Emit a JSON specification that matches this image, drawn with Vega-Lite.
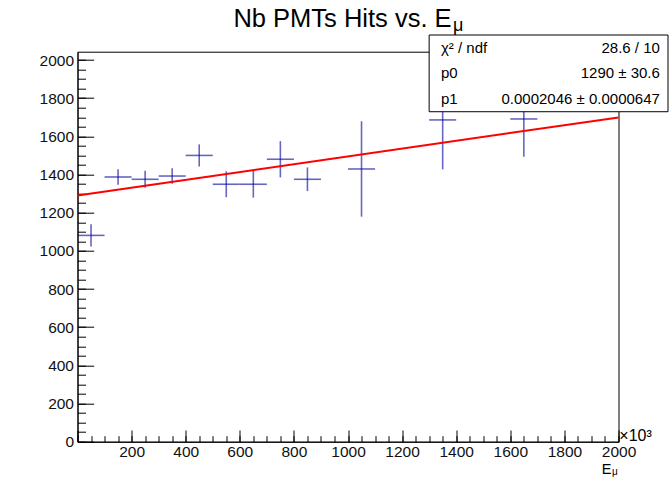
{
  "$schema": "https://vega.github.io/schema/vega-lite/v6.json",
  "width": 541,
  "height": 390,
  "autosize": {"type": "none"},
  "padding": {"left": 77.5, "top": 51.7, "right": 51.5, "bottom": 36.3},
  "background": "white",
  "config": {
    "view": {"stroke": "black", "strokeWidth": 1},
    "axis": {"labelFont": "Liberation Sans", "labelFontSize": 15.5, "labelColor": "#111111", "grid": false, "domainColor": "black", "tickColor": "black", "domainWidth": 1, "tickWidth": 1}
  },
  "data": {"values": [{}]},
  "datasets": {
    "points": [
      {"E": 50, "dE": 50, "N": 1081, "dN": 58},
      {"E": 150, "dE": 50, "N": 1387, "dN": 41},
      {"E": 250, "dE": 50, "N": 1375, "dN": 45},
      {"E": 350, "dE": 50, "N": 1392, "dN": 41},
      {"E": 450, "dE": 50, "N": 1500, "dN": 58},
      {"E": 550, "dE": 50, "N": 1349, "dN": 68},
      {"E": 650, "dE": 50, "N": 1349, "dN": 70},
      {"E": 750, "dE": 50, "N": 1480, "dN": 95},
      {"E": 850, "dE": 50, "N": 1375, "dN": 62},
      {"E": 1050, "dE": 50, "N": 1429, "dN": 250},
      {"E": 1350, "dE": 50, "N": 1686, "dN": 259},
      {"E": 1650, "dE": 50, "N": 1691, "dN": 198}
    ],
    "fit": [
      {"E": 0, "F": 1290},
      {"E": 2000, "F": 1699.2}
    ]
  },
  "layer": [
    {
      "data": {"name": "points"},
      "mark": {"type": "errorbar", "color": "#000099", "thickness": 1.6, "opacity": 0.6},
      "encoding": {
        "x": {"field": "E", "type": "quantitative", "scale": {"domain": [0, 2000]}, "axis": {"orient": "bottom", "title": null, "values": [0, 200, 400, 600, 800, 1000, 1200, 1400, 1600, 1800, 2000], "tickSize": -11.7, "labels": false, "domain": false}},
        "y": {"field": "N", "type": "quantitative", "scale": {"domain": [0, 2043.5]}, "axis": {"orient": "left", "title": null, "values": [0, 200, 400, 600, 800, 1000, 1200, 1400, 1600, 1800, 2000], "tickSize": -16.2, "labels": false, "domain": false}},
        "yError": {"field": "dN"}
      }
    },
    {
      "data": {"name": "points"},
      "mark": {"type": "errorbar", "color": "#000099", "thickness": 1.6, "opacity": 0.6},
      "encoding": {
        "x": {"field": "E", "type": "quantitative", "scale": {"domain": [0, 2000]}, "axis": {"orient": "bottom", "title": null, "values": [0, 50, 100, 150, 200, 250, 300, 350, 400, 450, 500, 550, 600, 650, 700, 750, 800, 850, 900, 950, 1000, 1050, 1100, 1150, 1200, 1250, 1300, 1350, 1400, 1450, 1500, 1550, 1600, 1650, 1700, 1750, 1800, 1850, 1900, 1950, 2000], "tickSize": -6, "labels": false, "domain": false}},
        "xError": {"field": "dE"},
        "y": {"field": "N", "type": "quantitative", "scale": {"domain": [0, 2043.5]}, "axis": {"orient": "left", "title": null, "values": [0, 50, 100, 150, 200, 250, 300, 350, 400, 450, 500, 550, 600, 650, 700, 750, 800, 850, 900, 950, 1000, 1050, 1100, 1150, 1200, 1250, 1300, 1350, 1400, 1450, 1500, 1550, 1600, 1650, 1700, 1750, 1800, 1850, 1900, 1950, 2000], "tickSize": -8, "labels": false, "domain": false}}
      }
    },
    {
      "data": {"name": "fit"},
      "mark": {"type": "line", "color": "#ff0000", "strokeWidth": 2},
      "encoding": {
        "x": {"field": "E", "type": "quantitative", "scale": {"domain": [0, 2000]}, "axis": {"orient": "bottom", "title": null, "format": "d", "values": [200, 400, 600, 800, 1000, 1200, 1400, 1600, 1800, 2000], "ticks": false, "labelPadding": 3, "labelFlush": false}},
        "y": {"field": "F", "type": "quantitative", "scale": {"domain": [0, 2043.5]}, "axis": {"orient": "left", "title": null, "format": "d", "values": [0, 200, 400, 600, 800, 1000, 1200, 1400, 1600, 1800, 2000], "ticks": false, "labelPadding": 4, "labelFlush": false}}
      }
    },
    {
      "mark": {"type": "rect", "fill": "white", "stroke": "black", "strokeWidth": 1},
      "encoding": {
        "x": {"datum": 1300, "type": "quantitative", "scale": {"domain": [0, 2000]}, "axis": null},
        "x2": {"datum": 2183},
        "y": {"datum": 1729, "type": "quantitative", "scale": {"domain": [0, 2043.5]}, "axis": null},
        "y2": {"datum": 2131}
      }
    },
    {
      "mark": {"type": "text", "text": "Nb PMTs Hits vs. E", "font": "Liberation Sans", "fontSize": 25.5, "align": "center", "baseline": "alphabetic", "color": "black"},
      "encoding": {
        "x": {"datum": 979.7, "type": "quantitative", "scale": {"domain": [0, 2000]}, "axis": null},
        "y": {"datum": 2174.5, "type": "quantitative", "scale": {"domain": [0, 2043.5]}, "axis": null}
      }
    },
    {
      "mark": {"type": "text", "text": "μ", "font": "Liberation Sans", "fontSize": 18, "align": "left", "baseline": "alphabetic", "color": "black"},
      "encoding": {
        "x": {"datum": 1388.5, "type": "quantitative", "scale": {"domain": [0, 2000]}, "axis": null},
        "y": {"datum": 2153.5, "type": "quantitative", "scale": {"domain": [0, 2043.5]}, "axis": null}
      }
    },
    {
      "mark": {"type": "text", "text": "χ² / ndf", "font": "Liberation Sans", "fontSize": 15, "align": "left", "baseline": "alphabetic", "color": "black"},
      "encoding": {
        "x": {"datum": 1343.8, "type": "quantitative", "scale": {"domain": [0, 2000]}, "axis": null},
        "y": {"datum": 2038, "type": "quantitative", "scale": {"domain": [0, 2043.5]}, "axis": null}
      }
    },
    {
      "mark": {"type": "text", "text": "p0", "font": "Liberation Sans", "fontSize": 15, "align": "left", "baseline": "alphabetic", "color": "black"},
      "encoding": {
        "x": {"datum": 1343.8, "type": "quantitative", "scale": {"domain": [0, 2000]}, "axis": null},
        "y": {"datum": 1904, "type": "quantitative", "scale": {"domain": [0, 2043.5]}, "axis": null}
      }
    },
    {
      "mark": {"type": "text", "text": "p1", "font": "Liberation Sans", "fontSize": 15, "align": "left", "baseline": "alphabetic", "color": "black"},
      "encoding": {
        "x": {"datum": 1343.8, "type": "quantitative", "scale": {"domain": [0, 2000]}, "axis": null},
        "y": {"datum": 1769.5, "type": "quantitative", "scale": {"domain": [0, 2043.5]}, "axis": null}
      }
    },
    {
      "mark": {"type": "text", "text": "28.6 / 10", "font": "Liberation Sans", "fontSize": 15, "align": "right", "baseline": "alphabetic", "color": "black"},
      "encoding": {
        "x": {"datum": 2153, "type": "quantitative", "scale": {"domain": [0, 2000]}, "axis": null},
        "y": {"datum": 2038, "type": "quantitative", "scale": {"domain": [0, 2043.5]}, "axis": null}
      }
    },
    {
      "mark": {"type": "text", "text": "1290 ± 30.6", "font": "Liberation Sans", "fontSize": 15, "align": "right", "baseline": "alphabetic", "color": "black"},
      "encoding": {
        "x": {"datum": 2153, "type": "quantitative", "scale": {"domain": [0, 2000]}, "axis": null},
        "y": {"datum": 1904, "type": "quantitative", "scale": {"domain": [0, 2043.5]}, "axis": null}
      }
    },
    {
      "mark": {"type": "text", "text": "0.0002046 ± 0.0000647", "font": "Liberation Sans", "fontSize": 15, "align": "right", "baseline": "alphabetic", "color": "black"},
      "encoding": {
        "x": {"datum": 2153, "type": "quantitative", "scale": {"domain": [0, 2000]}, "axis": null},
        "y": {"datum": 1769.5, "type": "quantitative", "scale": {"domain": [0, 2043.5]}, "axis": null}
      }
    },
    {
      "mark": {"type": "text", "text": "×10³", "font": "Liberation Sans", "fontSize": 16, "align": "left", "baseline": "alphabetic", "color": "black"},
      "encoding": {
        "x": {"datum": 2003, "type": "quantitative", "scale": {"domain": [0, 2000]}, "axis": null},
        "y": {"datum": 5, "type": "quantitative", "scale": {"domain": [0, 2043.5]}, "axis": null}
      }
    },
    {
      "mark": {"type": "text", "text": "E", "font": "Liberation Sans", "fontSize": 14.5, "align": "left", "baseline": "alphabetic", "color": "black"},
      "encoding": {
        "x": {"datum": 1938, "type": "quantitative", "scale": {"domain": [0, 2000]}, "axis": null},
        "y": {"datum": -168, "type": "quantitative", "scale": {"domain": [0, 2043.5]}, "axis": null}
      }
    },
    {
      "mark": {"type": "text", "text": "μ", "font": "Liberation Sans", "fontSize": 10, "align": "left", "baseline": "alphabetic", "color": "black"},
      "encoding": {
        "x": {"datum": 1976, "type": "quantitative", "scale": {"domain": [0, 2000]}, "axis": null},
        "y": {"datum": -173, "type": "quantitative", "scale": {"domain": [0, 2043.5]}, "axis": null}
      }
    }
  ],
  "resolve": {"axis": {"x": "independent", "y": "independent"}}
}
